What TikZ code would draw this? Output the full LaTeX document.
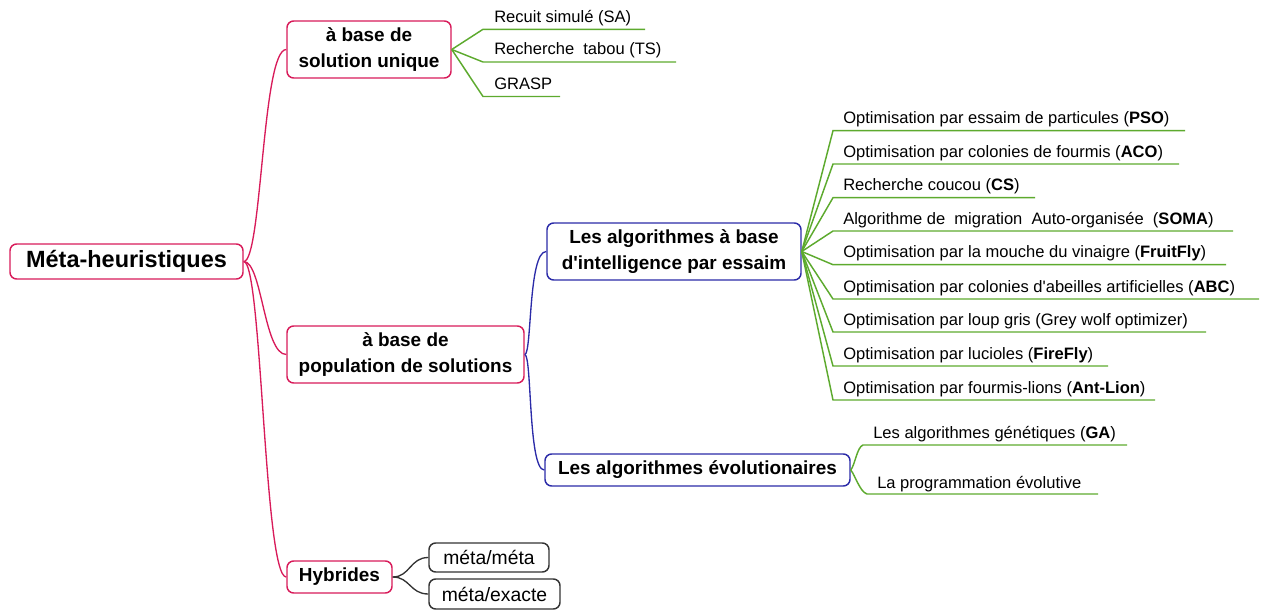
\documentclass[tikz,border=0pt]{standalone}
\usepackage{fontspec}
\setmainfont{Liberation Sans}[Ligatures=TeXOff]
\definecolor{cred}{HTML}{D81B5A}
\definecolor{cblue}{HTML}{2B2BA8}
\definecolor{cgreen}{HTML}{5DAA2E}
\definecolor{cgray}{HTML}{333333}
\tikzset{
  box/.style={draw, rounded corners=5pt, line width=1.1pt, align=center, inner sep=0pt, fill=white},
  redbox/.style={box, draw=cred},
  bluebox/.style={box, draw=cblue},
  graybox/.style={box, draw=cgray},
  sz/.style 2 args={minimum width={#1*0.75pt}, minimum height={#2*0.75pt}},
  lone/.style={font=\fontsize{14.2pt}{19.5pt}\selectfont\bfseries},
  leaf/.style={anchor=base west, inner sep=0pt, font=\fontsize{12.4pt}{14pt}\selectfont},
  redline/.style={draw=cred, line width=1pt},
  blueline/.style={draw=cblue, line width=1pt},
  grayline/.style={draw=cgray, line width=1pt},
  greenline/.style={draw=cgreen, line width=1.1pt},
}
\begin{document}
\begin{tikzpicture}[x=0.75pt, y=-0.75pt]
\useasboundingbox (0,0) rectangle (1267,610);

% main nodes
\node[redbox, sz={233}{35}, font=\fontsize{17.6pt}{20pt}\selectfont\bfseries] (root) at (126.5,261.5) {Méta-heuristiques};
\node[redbox, lone, sz={164}{57}] (sol) at (369,49.5) {à base de\\solution unique};
\node[redbox, lone, sz={237}{57}] (pop) at (405.5,354.5) {à base de\\population de solutions};
\node[redbox, lone, sz={105}{32}] (hyb) at (339.5,577) {Hybrides};
\node[graybox, sz={120}{29}, font=\fontsize{14.5pt}{17pt}\selectfont] (mm) at (489,557.5) {méta/méta};
\node[graybox, sz={131}{30}, font=\fontsize{14.5pt}{17pt}\selectfont] (me) at (494.5,594) {méta/exacte};
\node[bluebox, lone, sz={254}{57}] (swarm) at (674,251.5) {Les algorithmes à base\\d'intelligence par essaim};
\node[bluebox, lone, sz={305}{32}] (evol) at (697.5,470) {Les algorithmes évolutionaires};

% red connectors
\draw[redline] (root.east) .. controls (262,261.5) and (262,49.5) .. (sol.west);
\draw[redline] (root.east) .. controls (262,261.5) and (264,354.5) .. (pop.west);
\draw[redline] (root.east) .. controls (262,261.5) and (264,577) .. (hyb.west);

% blue connectors
\draw[blueline] (pop.east) .. controls (532,354.5) and (528,251.5) .. (swarm.west);
\draw[blueline] (pop.east) .. controls (532,354.5) and (528,470) .. (evol.west);

% gray connectors
\draw[grayline] (hyb.east) .. controls (410,577) and (410,557.5) .. (mm.west);
\draw[grayline] (hyb.east) .. controls (410,577) and (410,594) .. (me.west);

% leaves of "solution unique"
\foreach \i/\y/\e/\t in {1/29.3/645/{Recuit simulé (SA)},
                          2/62/676/{Recherche~~tabou (TS)},
                          3/96.5/560/{GRASP}}{
  \coordinate (su\i) at (483,\y);
  \coordinate (sue\i) at (\e,\y);
  \node[leaf] (sut\i) at (494,\y-7) {\t};
  \draw[greenline] (sol.east) -- (su\i) -- (sue\i);
}

% leaves of swarm
\foreach \i/\y/\e/\t in {1/130.7/1185/{Optimisation par essaim de particules (\textbf{PSO})},
                          2/164/1179/{Optimisation par colonies de fourmis (\textbf{ACO})},
                          3/197.7/1035/{Recherche coucou (\textbf{CS})},
                          4/231/1233/{Algorithme de~~migration~~Auto-organisée~~(\textbf{SOMA})},
                          5/264.7/1226/{Optimisation par la mouche du vinaigre (\textbf{FruitFly})},
                          6/299/1259/{Optimisation par colonies d'abeilles artificielles (\textbf{ABC})},
                          7/332/1206/{Optimisation par loup gris (Grey wolf optimizer)},
                          8/366/1108/{Optimisation par lucioles (\textbf{FireFly})},
                          9/400/1155/{Optimisation par fourmis-lions (\textbf{Ant-Lion})}}{
  \coordinate (sw\i) at (833,\y);
  \coordinate (swe\i) at (\e,\y);
  \node[leaf] (swt\i) at (843,\y-7) {\t};
  \draw[greenline] (swarm.east) -- (sw\i) -- (swe\i);
}

% leaves of evolutionary
\coordinate (ev1) at (863,445);
\coordinate (eve1) at (1127,445);
\node[leaf] (evt1) at (873,438) {Les algorithmes génétiques (\textbf{GA})};
\draw[greenline] (evol.east) .. controls (855,465) and (857,447) .. (ev1) -- (eve1);
\coordinate (ev2) at (867,494);
\coordinate (eve2) at (1098,494);
\node[leaf] (evt2) at (877,488) {La programmation évolutive};
\draw[greenline] (evol.east) .. controls (855,475) and (860,492) .. (ev2) -- (eve2);
\end{tikzpicture}
\end{document}
